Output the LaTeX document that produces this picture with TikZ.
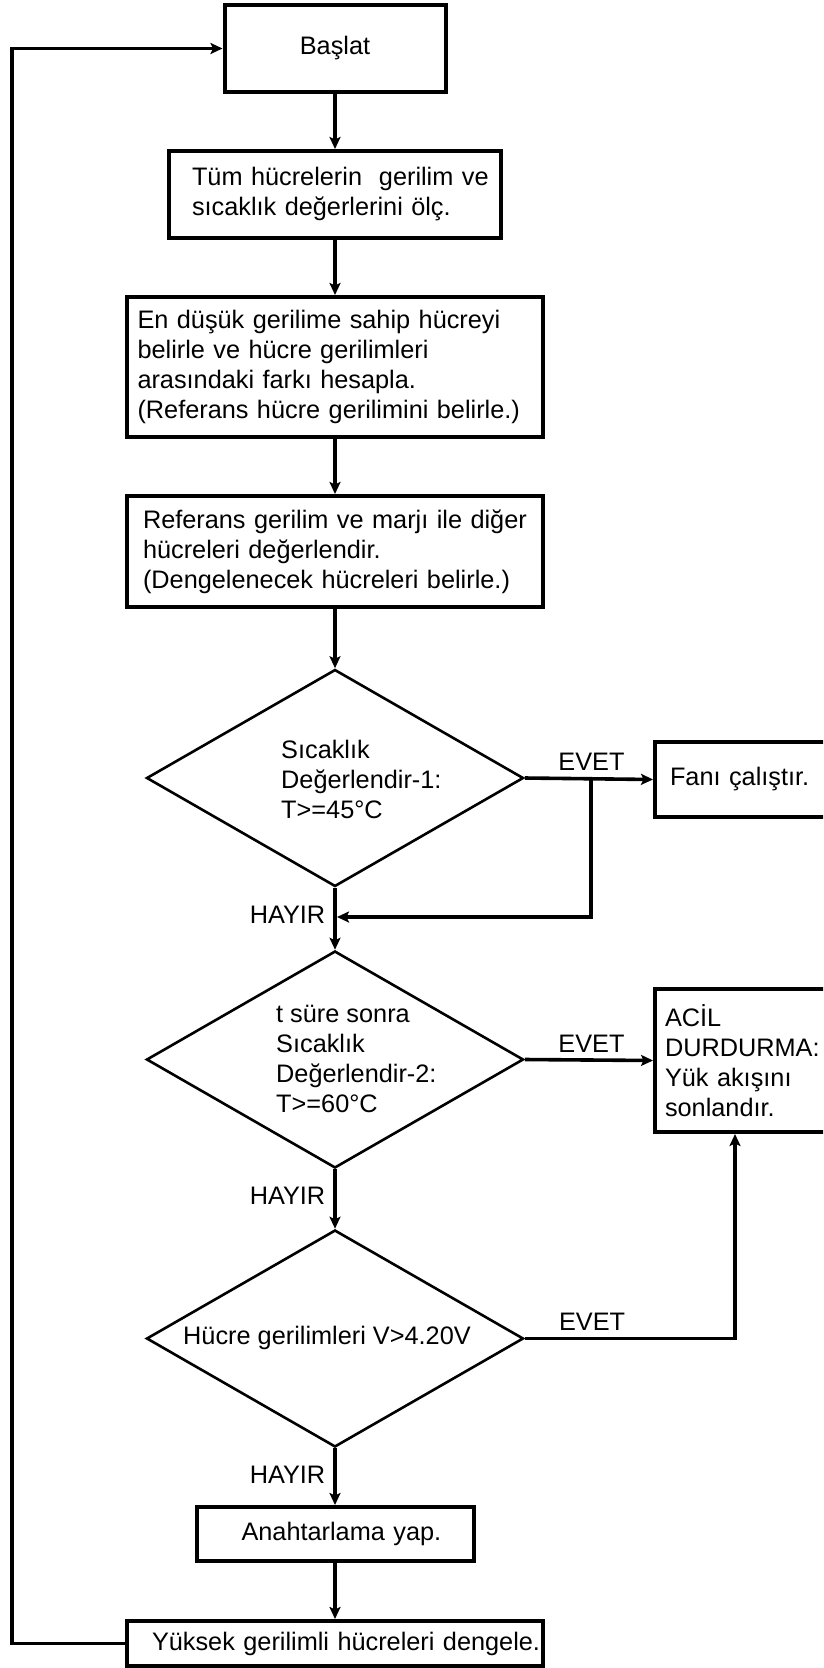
\documentclass[tikz,border=0pt]{standalone}
\usepackage{fontspec}
\setmainfont{Liberation Sans}
\usetikzlibrary{arrows.meta,shapes.geometric,calc}

\begin{document}
\begin{tikzpicture}[x=1pt,y=-1pt,
  txt/.style={font=\fontsize{25.3}{30}\selectfont, inner sep=0pt, text=black},
  box/.style={draw, line width=4pt, txt, align=left},
  cond/.style={draw, diamond, line width=2.6pt, minimum width=377pt,
    minimum height=217pt, inner sep=0pt},
  conn/.style={line width=3.6pt, -{Stealth[length=12pt,width=11pt,inset=2.5pt]}},
  yes/.style={txt, above=6pt},
  no/.style={txt, left=8pt},
]
\useasboundingbox (0,0) rectangle (823,1668);
\fill[white] (0,0) rectangle (823,1668);
\clip (0,0) rectangle (823,1668);

% process boxes
\node[box, align=center, minimum width=221pt, minimum height=87pt] (b1) at (335,48.5) {Başlat};
\node[box, text width=286pt, minimum width=332pt, minimum height=87pt] (b2) at (335,194.5)
  {\mbox{Tüm hücrelerin\ \ gerilim ve}\\\mbox{sıcaklık değerlerini ölç.}};
\node[box, text width=395pt, minimum width=416pt, minimum height=140pt] (b3) at (335,367)
  {\mbox{En düşük gerilime sahip hücreyi}\\\mbox{belirle ve hücre gerilimleri}\\
   \mbox{arasındaki farkı hesapla.}\\\mbox{(Referans hücre gerilimini belirle.)}};
\node[box, text width=384pt, minimum width=416pt, minimum height=111pt] (b4) at (335,551.5)
  {\mbox{Referans gerilim ve marjı ile diğer}\\\mbox{hücreleri değerlendir.}\\
   \mbox{(Dengelenecek hücreleri belirle.)}};

% decisions
\node[cond] (d1) at (335,778) {};
\node[txt, anchor=west, align=left] (t1) at (281,779) {Sıcaklık\\Değerlendir-1:\\T>=45°C};
\node[cond] (d2) at (335,1059.5) {};
\node[txt, anchor=west, align=left] (t2) at (276,1058.5) {t süre sonra\\Sıcaklık\\Değerlendir-2:\\T>=60°C};
\node[cond] (d3) at (335,1338.5) {};
\node[txt] (t3) at (327,1338) {Hücre gerilimleri V>4.20V};

% action boxes on the right
\node[box, text width=185pt, minimum width=215pt, minimum height=75pt] (fan) at (762.5,779.5)
  {\mbox{Fanı çalıştır.}};
\node[box, text width=195pt, minimum width=215pt, minimum height=143pt] (acil) at (762.5,1060.5)
  {ACİL\\DURDURMA:\\Yük akışını\\sonlandır.};

% final steps
\node[box, text width=187pt, minimum width=277pt, minimum height=54pt] (b5) at (335,1534)
  {\mbox{Anahtarlama yap.}};
\node[box, text width=366pt, minimum width=416pt, minimum height=45pt] (b6) at (335,1643.5)
  {\mbox{Yüksek gerilimli hücreleri dengele.}};

% helper points
\coordinate (j1) at (591,778);
\coordinate (m1) at (337,917);
\coordinate (c3) at (735,1338.5);
\coordinate (lp) at (12,1643.5);

% main flow
\draw[conn] (b1.south) -- (b2.north);
\draw[conn] (b2.south) -- (b3.north);
\draw[conn] (b3.south) -- (b4.north);
\draw[conn] (b4.south) -- (d1.north);
\draw[conn] (d1.south) -- node[no, pos=.44] {HAYIR} (d2.north);
\draw[conn] (d2.south) -- node[no, pos=.44] {HAYIR} (d3.north);
\draw[conn] (d3.south) -- node[no, pos=.47] {HAYIR} (b5.north);
\draw[conn] (b5.south) -- (b6.north);

% yes branches
\draw[conn] (d1.east) -- node[yes, pos=.52] {EVET} (fan.west);
\draw[conn] (j1) |- (m1);
\draw[conn] (d2.east) -- node[yes, pos=.52] {EVET} (acil.west);
\draw[conn] (d3.east) -- node[yes, pos=.32] {EVET} (c3) -- (c3 |- acil.south);

% loop back to start
\draw[conn] (b6.west) -- (lp) |- (b1.west);
\end{tikzpicture}
\end{document}
